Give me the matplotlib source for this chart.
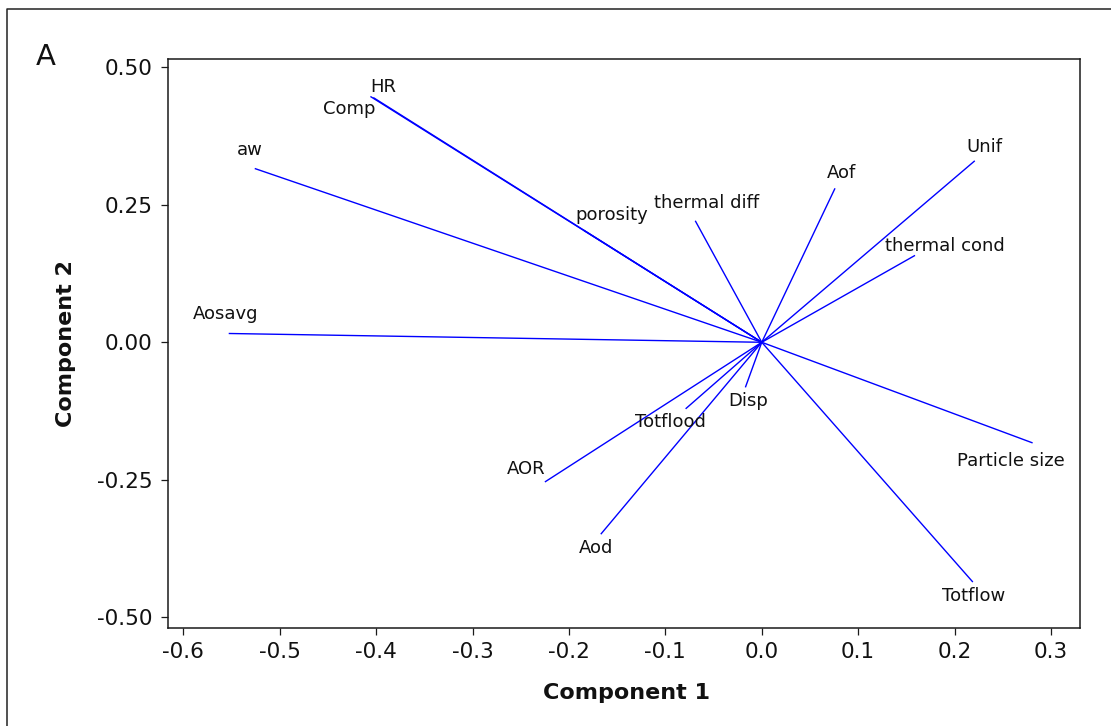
import matplotlib
matplotlib.use("Agg")
import matplotlib.pyplot as plt
from matplotlib.lines import Line2D

# Loadings on the first two principal components
names = ['HR', 'Comp', 'aw', 'Aosavg', 'porosity', 'thermal diff', 'Aof', 'Unif',
         'thermal cond', 'Particle size', 'Totflow', 'Aod', 'AOR', 'Totflood', 'Disp']
pc1 = [-0.406, -0.403, -0.526, -0.553, -0.185, -0.069, 0.076, 0.221,
       0.159, 0.281, 0.219, -0.167, -0.225, -0.079, -0.017]
pc2 = [0.447, 0.445, 0.316, 0.016, 0.204, 0.221, 0.280, 0.330,
       0.158, -0.183, -0.436, -0.349, -0.254, -0.121, -0.082]

xticks = [-0.6, -0.5, -0.4, -0.3, -0.2, -0.1, 0.0, 0.1, 0.2, 0.3]
yticks = [-0.50, -0.25, 0.00, 0.25, 0.50]

# label placement relative to the tip of each vector (pixels, y up)
label_off = {
    'HR': (13, 11), 'Comp': (-24, -9), 'aw': (-5, 21), 'Aosavg': (-3, 21),
    'porosity': (28, 17), 'thermal diff': (11, 20), 'Aof': (6, 17),
    'Unif': (10, 16), 'thermal cond': (30, 11), 'Particle size': (-22, -16),
    'Totflow': (1, -12), 'Aod': (-5, -12), 'AOR': (-19, 15),
    'Totflood': (-15, -11), 'Disp': (3, -12),
}

plt.rcParams['font.family'] = 'DejaVu Sans'

fig = plt.figure(figsize=(11.11, 7.26), dpi=100)
ax = fig.add_axes([0.1512, 0.1354, 0.8212, 0.7837])

for name, x, y in zip(names, pc1, pc2):
    ax.plot([0, x], [0, y], color='#0000FF', lw=1.0, solid_capstyle='butt')
    dx, dy = label_off[name]
    ax.annotate(name, (x, y), xytext=(dx, dy - 7), textcoords='offset pixels',
                ha='center', va='baseline', fontsize=13, color='#111111')

ax.set_xlim(-0.616, 0.3305)
ax.set_ylim(-0.519, 0.5156)
ax.set_xticks(xticks)
ax.set_xticklabels([f"{t:.1f}" for t in xticks])
ax.set_yticks(yticks)
ax.set_yticklabels([f"{t:.2f}" for t in yticks])

for s in ax.spines.values():
    s.set_linewidth(1.1)
    s.set_color('#1a1a1a')
ax.tick_params(direction='out', length=5, width=0.9, color='#1a1a1a',
               labelsize=15.5, labelcolor='#111111')
ax.tick_params(axis='x', pad=5)
ax.tick_params(axis='y', pad=6)

ax.set_xlabel('Component 1', fontsize=16, fontweight='bold', color='#111111')
ax.set_ylabel('Component 2', fontsize=16, fontweight='bold', color='#111111')
ax.xaxis.set_label_coords(0.503, -0.097)
ax.yaxis.set_label_coords(-0.101, 0.5)

fig.text(46 / 1111, 1 - 65 / 726, 'A', fontsize=21, ha='center', va='baseline',
         color='#111111')

# frame around the panel (left and top edges)
fig.add_artist(Line2D([7 / 1111, 7 / 1111, 1.01], [-0.01, 1 - 9 / 726, 1 - 9 / 726],
                      transform=fig.transFigure, color='#222222', lw=1.1))

fig.savefig('out.png', dpi=100)
